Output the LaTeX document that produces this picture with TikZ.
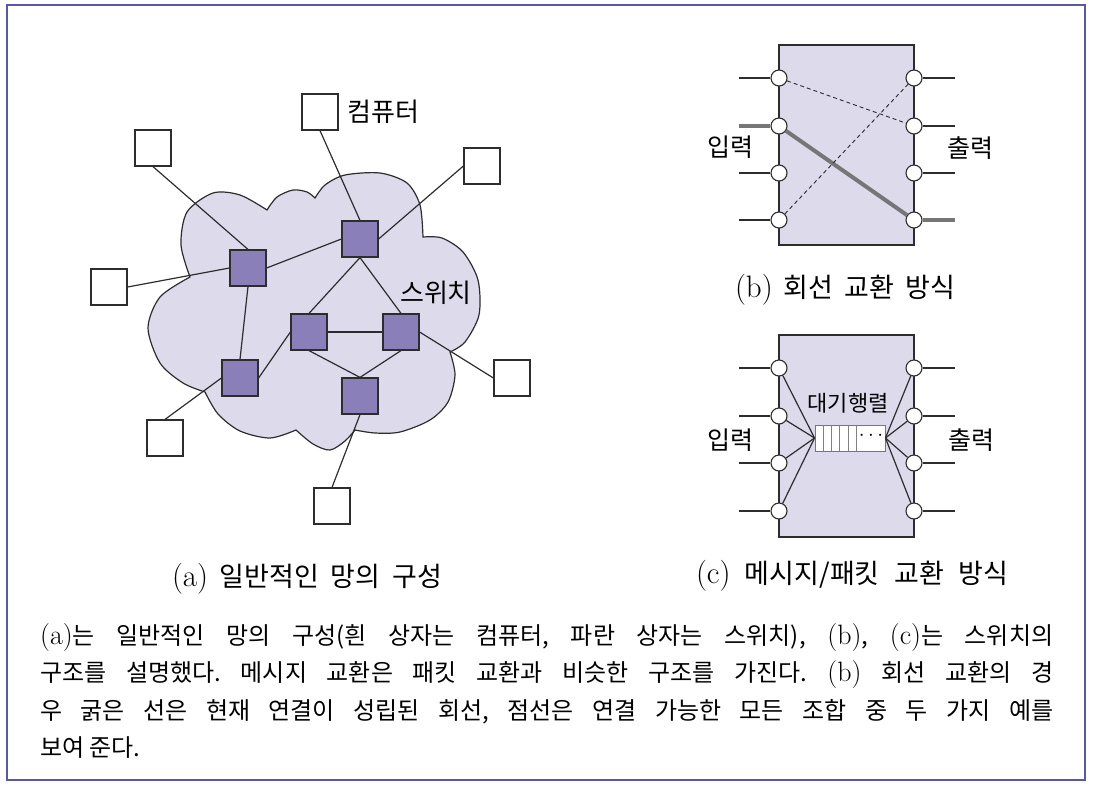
\documentclass[tikz,border=0pt]{standalone}
\usepackage{fontspec}
\newfontfamily\kr{Noto Sans CJK KR}
\usetikzlibrary{positioning}
\definecolor{framec}{RGB}{88,88,170}
\definecolor{cloudc}{RGB}{221,218,236}
\definecolor{swc}{RGB}{138,127,185}
\definecolor{wirec}{RGB}{45,45,45}
\definecolor{busyc}{RGB}{118,118,118}
\newcommand{\latb}[1]{{\rmfamily\fontsize{28}{30}\selectfont #1}}
\newcommand{\latc}[1]{{\rmfamily\fontsize{31}{34}\selectfont #1}}

\begin{document}
\frenchspacing
\begin{tikzpicture}[x=1pt,y=-1pt,node distance=9pt,
  pc/.style={draw=wirec,fill=white,line width=1.2pt,minimum size=36pt,inner sep=0pt},
  sw/.style={pc,fill=swc},
  swbox/.style={draw=wirec,fill=cloudc,line width=1.2pt,minimum width=135pt,inner sep=0pt},
  port/.style={circle,draw=wirec,fill=white,line width=1.1pt,minimum size=16pt,inner sep=0pt},
  ln/.style={draw=wirec,line width=1.2pt},
  busy/.style={draw=busyc,line width=4pt},
  lbl/.style={font=\kr\fontsize{25}{30}\selectfont,inner sep=0pt},
  capt/.style={font=\kr\fontsize{27}{30}\selectfont,inner sep=0pt},
  body/.style={font=\kr\fontsize{24}{28}\selectfont,inner sep=0pt,anchor=base west}]
\useasboundingbox (0,0) rectangle (1093,788);
\draw[framec,line width=2.5pt] (7,5) rectangle (1085,780);

% (a) network cloud
\filldraw[draw=wirec,fill=cloudc,line width=1.2pt] (190,277)
  -- plot[smooth] coordinates {(190,277) (181,245) (187,212) (213,193) (240,195) (267,210)}
  -- plot[smooth] coordinates {(267,210) (277,197) (293,190) (307,192) (315,198)}
  -- plot[smooth] coordinates {(315,198) (325,185) (345,175) (380,173) (407,183) (420,205) (423,237)}
  -- plot[smooth] coordinates {(423,237) (442,238) (463,252) (478,280) (479,315) (465,342) (450,352)}
  -- plot[smooth] coordinates {(450,352) (455,375) (448,402) (430,420) (400,432) (375,433) (355,430)}
  -- plot[smooth] coordinates {(355,430) (345,441) (330,450) (313,444) (296,430)}
  -- plot[smooth] coordinates {(296,430) (270,438) (240,431) (218,414) (205,392)}
  -- plot[smooth] coordinates {(205,392) (183,383) (160,363) (148,328) (160,297) (190,277)}
  -- cycle;

\node[sw] (sw1) at (248,268) {};
\node[sw] (sw2) at (360,239) {};
\node[sw] (sw3) at (309,332) {};
\node[sw] (sw4) at (401,332) {};
\node[sw] (sw5) at (240,378) {};
\node[sw] (sw6) at (360,396) {};
\node[pc] (pc1) at (320,112) {};
\node[pc] (pc2) at (153,148) {};
\node[pc] (pc3) at (482,166) {};
\node[pc] (pc4) at (109,287) {};
\node[pc] (pc5) at (512,378) {};
\node[pc] (pc6) at (165,438) {};
\node[pc] (pc7) at (332,506) {};
\node[lbl,font=\kr\fontsize{26}{30}\selectfont,right=of pc1] (pclbl) {컴퓨터};
\node[lbl,font=\kr\fontsize{26}{30}\selectfont] (swlbl) at (436,293) {스위치};

\foreach \a/\b in {pc1.south/sw2.north,pc2.south/sw1.north,pc3.west/sw2.east,
  pc4.east/sw1.west,sw1.east/sw2.west,sw1.south/sw5.north,sw5.east/sw3.west,
  sw2.south/sw3.north,sw2.south/sw4.north,sw3.east/sw4.west,sw3.south/sw6.north,
  sw4.south/sw6.north,sw4.east/pc5.west,sw5.west/pc6.north,sw6.south/pc7.north}
  \draw[ln] (\a) -- (\b);

\node[capt] (capa) at (307,579) {\makebox[270pt][s]{\latc{(a)} 일반적인 망의 구성}};

% (b) circuit switching
\node[swbox,minimum height=200pt] (bbox) at (846.5,145) {};
\foreach \i/\y in {1/78,2/126,3/173,4/220} {
  \node[port] (bi\i) at (779,\y) {};
  \node[port] (bo\i) at (914,\y) {};
  \coordinate (bia\i) at (739,\y);
  \coordinate (boa\i) at (955,\y);
}
\foreach \i in {1,3,4} \draw[ln] (bia\i) -- (bi\i);
\foreach \i in {1,2,3} \draw[ln] (bo\i) -- (boa\i);
\draw[busy] (bia2) -- (bi2);
\draw[busy] (bi2) -- (bo4);
\draw[busy] (bo4) -- (boa4);
\draw[ln,line width=0.9pt,dash pattern=on 4pt off 3pt] (bi1) -- (bo2);
\draw[ln,line width=0.9pt,dash pattern=on 4pt off 3pt] (bi4) -- (bo1);
\node[lbl] (bin) at (730,147) {입력};
\node[lbl] (bout) at (970,148) {출력};
\node[capt] (capb) at (845,290) {\makebox[220pt][s]{\latc{(b)} 회선 교환 방식}};

% (c) message/packet switching
\node[swbox,minimum height=202pt] (cbox) at (846.5,436) {};
\foreach \i/\y in {1/368,2/416,3/463,4/511} {
  \node[port] (ci\i) at (779,\y) {};
  \node[port] (co\i) at (914,\y) {};
  \coordinate (cia\i) at (739,\y);
  \coordinate (coa\i) at (955,\y);
  \draw[ln] (cia\i) -- (ci\i);
  \draw[ln] (co\i) -- (coa\i);
}
\node[draw=busyc,fill=white,line width=0.9pt,minimum width=70pt,minimum height=26pt,inner sep=0pt] (q) at (850,438) {};
\foreach \k in {1,...,5}
  \draw[gray,line width=0.6pt] ([xshift=\k*8.4pt]q.north west) -- ([xshift=\k*8.4pt]q.south west);
\node[font=\fontsize{20}{20}\selectfont,inner sep=0pt] (qdots) at (871,436) {$\cdots$};
\foreach \i in {1,...,4} {
  \draw[ln] (ci\i) -- (q.west);
  \draw[ln] (q.east) -- (co\i);
}
\node[font=\kr\fontsize{22}{26}\selectfont,inner sep=0pt] (qlbl) at (848,403) {대기행렬};
\node[lbl] (cin) at (730,440) {입력};
\node[lbl] (cout) at (971,440) {출력};
\node[capt] (capc) at (852,576) {\makebox[312pt][s]{\latc{(c)} 메시지/패킷 교환 방식}};

% explanation
\node[body] (t1) at (40,644) {\makebox[1013pt][s]{\latb{(a)}는 일반적인 망의 구성(흰 상자는 컴퓨터, 파란 상자는 스위치), \latb{(b)}, \latb{(c)}는 스위치의}};
\node[body] (t2) at (40,681) {\makebox[1013pt][s]{구조를 설명했다. 메시지 교환은 패킷 교환과 비슷한 구조를 가진다. \latb{(b)} 회선 교환의 경}};
\node[body] (t3) at (40,719) {\makebox[1013pt][s]{우 굵은 선은 현재 연결이 성립된 회선, 점선은 연결 가능한 모든 조합 중 두 가지 예를}};
\node[body] (t4) at (40,756) {보여 준다.};
\end{tikzpicture}
\end{document}
